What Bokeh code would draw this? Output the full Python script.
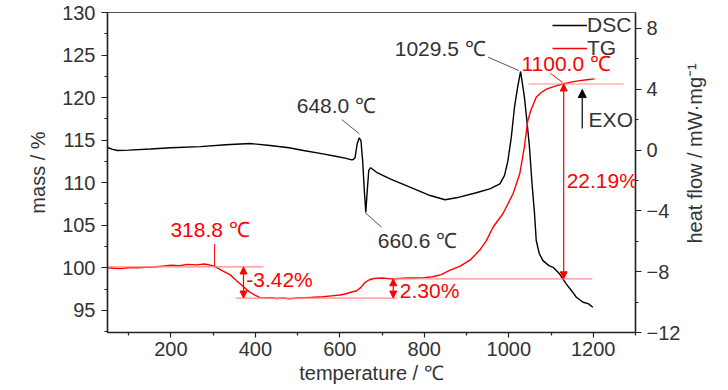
import math
from bokeh.plotting import figure
from bokeh.models import (Range1d, LinearAxis, FixedTicker, Label, Arrow, NormalHead,
                          Legend, LegendItem, ColumnDataSource)
from bokeh.embed import file_html
from bokeh.resources import INLINE

# ---------------- data ----------------
dsc_T = [50, 62, 74, 100, 152, 200, 270, 330, 388, 435, 480, 514, 560, 593, 615, 628, 632, 636,
         641, 646, 650, 654, 658, 661.5, 665, 668.5, 673, 687, 719, 766, 814, 849, 876, 923, 955,
         979, 990, 998, 1006, 1013.5, 1021, 1028, 1037, 1043, 1049, 1055, 1061, 1065, 1072, 1081,
         1095, 1105, 1120, 1136, 1150, 1160, 1176, 1188, 1199]
dsc_H = [0.17, 0.05, -0.03, 0.0, 0.07, 0.15, 0.23, 0.35, 0.43, 0.30, 0.15, -0.03, -0.25, -0.42,
         -0.55, -0.64, -0.62, -0.51, 0.41, 0.81, 0.63, -0.69, -2.66, -4.09, -2.66, -1.34, -1.16,
         -1.46, -1.89, -2.44, -2.99, -3.27, -3.14, -2.81, -2.55, -2.22, -1.67, -0.69, 0.85, 2.82,
         4.14, 5.17, 3.48, 1.9, 0.19, -2.2, -4.2, -5.95, -6.8, -7.27, -7.6, -7.71, -8.14, -8.80,
         -9.3, -9.68, -10.01, -10.1, -10.34]

tg_T = [50, 65, 80, 100, 120, 140, 160, 180, 200, 220, 240, 260, 280, 303, 320, 340, 355, 371,
        385, 400, 411, 425, 440, 450, 465, 480, 500, 520, 540, 560, 580, 600, 615, 624, 640, 650,
        660, 670, 680, 700, 720, 740, 760, 780, 800, 820, 840, 860, 885, 908, 930, 947, 963, 986,
        1010, 1026, 1037, 1045, 1053, 1065, 1077, 1089, 1110, 1128, 1150, 1168, 1185, 1203]
tg_M = [100.0, 99.95, 99.9, 100.0, 100.0, 100.05, 100.1, 100.2, 100.3, 100.25, 100.4, 100.35,
        100.45, 100.2, 99.7, 99.2, 98.5, 97.8, 97.2, 96.75, 96.5, 96.45, 96.5, 96.4, 96.45, 96.35,
        96.45, 96.5, 96.55, 96.6, 96.7, 96.8, 96.95, 97.1, 97.3, 97.7, 98.3, 98.6, 98.75, 98.8,
        98.7, 98.75, 98.8, 98.8, 98.85, 98.95, 99.2, 99.7, 100.2, 100.9, 102.0, 103.2, 104.8,
        106.35, 108.7, 111.05, 114.2, 117.3, 118.6, 120.05, 120.6, 121.0, 121.35, 121.6, 121.85,
        122.0, 122.1, 122.2]

x_ticks = [200, 400, 600, 800, 1000, 1200]
x_minor = [100, 300, 500, 700, 900, 1100, 1300]
mass_ticks = [95, 100, 105, 110, 115, 120, 125, 130]
mass_minor = [92.5, 97.5, 102.5, 107.5, 112.5, 117.5, 122.5, 127.5]
hf_ticks = [-12, -8, -4, 0, 4, 8]
hf_minor = [-10, -6, -2, 2, 6]

# mass levels used by the step annotations
mass_start = 100.1
mass_low = 96.45
mass_mid = 98.71
mass_end = 121.6

RED = "#ff0000"
PINK = "#ff8c8c"
GREY = "#333333"
SANS = "Liberation Sans"

p = figure(width=720, height=390, x_range=Range1d(50, 1300), y_range=Range1d(92.4, 130),
           output_backend="svg", toolbar_location=None,
           min_border_left=107, min_border_right=84, min_border_top=12, min_border_bottom=58)
p.extra_y_ranges = {"hf": Range1d(-12, 9.05)}
p.grid.visible = False
p.outline_line_color = "#555555"
p.outline_line_width = 1.2
p.background_fill_color = "white"
p.border_fill_color = "white"

def style_axis(ax):
    ax.axis_line_color = "#222222"
    ax.axis_line_width = 1.5
    ax.major_tick_line_color = "#222222"
    ax.minor_tick_line_color = "#222222"
    ax.major_tick_line_width = 1.2
    ax.minor_tick_line_width = 1.2
    ax.major_tick_in = 0
    ax.major_tick_out = 6
    ax.minor_tick_in = 0
    ax.minor_tick_out = 3
    ax.major_label_text_font = SANS
    ax.major_label_text_font_size = "20px"
    ax.major_label_text_color = GREY
    ax.axis_label_text_font = SANS
    ax.axis_label_text_font_size = "20px"
    ax.axis_label_text_font_style = "normal"
    ax.axis_label_text_color = GREY

xa = p.xaxis[0]
style_axis(xa)
xa.ticker = FixedTicker(ticks=x_ticks, minor_ticks=x_minor)
xa.axis_label = "temperature / ℃"
xa.major_tick_out = 5
xa.major_label_standoff = 4
xa.axis_label_standoff = 3

ya = p.yaxis[0]
style_axis(ya)
ya.ticker = FixedTicker(ticks=mass_ticks, minor_ticks=mass_minor)
ya.axis_label = "mass / %"
ya.major_label_standoff = 6
ya.axis_label_standoff = 10

ra = LinearAxis(y_range_name="hf", ticker=FixedTicker(ticks=hf_ticks, minor_ticks=hf_minor))
style_axis(ra)
ra.major_label_standoff = 5
ra.axis_label = "heat flow / mW·mg⁻¹"
ra.axis_label_standoff = 12
props = ra.properties()
if "axis_label_orientation" in props:
    ra.axis_label_orientation = math.pi / 2
if "axis_label_align" in props:
    ra.axis_label_align = "start"
    ra.axis_label = "\u00a0" * 16 + "heat flow / mW·mg⁻¹"
p.add_layout(ra, "right")

# ---------------- curves ----------------
r_dsc = p.line(dsc_T, dsc_H, y_range_name="hf", line_color="#000000", line_width=1.4)
r_tg = p.line(tg_T, tg_M, line_color=RED, line_width=1.4)

# ---------------- helper lines ----------------
helper = ColumnDataSource(dict(x0=[50, 354, 726, 1047], x1=[419, 735, 1198, 1272],
                               y=[mass_start, mass_low, mass_mid, mass_end]))
p.segment(x0="x0", y0="y", x1="x1", y1="y", source=helper, line_color=PINK, line_width=1.2)

for xa_, y0, y1 in [(372, mass_start, mass_low), (726.5, mass_low, mass_mid),
                    (1130, mass_mid, mass_end)]:
    p.add_layout(Arrow(x_start=xa_, y_start=y0, x_end=xa_, y_end=y1, line_color=RED,
                       line_width=1.2,
                       start=NormalHead(size=7, fill_color=RED, line_color=RED),
                       end=NormalHead(size=7, fill_color=RED, line_color=RED)))

# leaders
p.segment(x0=[303.5, 1099], y0=[102.8, 122.83], x1=[303.5, 1127.5], y1=[100.19, 121.78],
          line_color=RED, line_width=1)
p.segment(x0=[604.6, 659.6, 951], y0=[2.01, -4.11, 6.11], x1=[646.2, 699, 1024],
          y1=[1.07, -5.07, 5.23], y_range_name="hf", line_color="#444444", line_width=0.9)

# EXO arrow
p.add_layout(Arrow(x_start=1174, y_start=1.42, x_end=1174, y_end=3.98, y_range_name="hf",
                   line_color="#333333", line_width=1.5,
                   end=NormalHead(size=8, fill_color="#000000", line_color="#000000")))

def lab(x, y, t, color, align="left", rng="default"):
    p.add_layout(Label(x=x, y=y, text=t, text_align=align, text_baseline="middle",
                       text_font=SANS, text_font_size="21px", text_color=color,
                       y_range_name=rng))

lab(199, 104.5, "318.8 ℃", RED)
lab(378.5, 98.6, "-3.42%", RED)
lab(742, 97.34, "2.30%", RED)
lab(1137, 110.26, "22.19%", RED)
lab(1030, 124.0, "1100.0 ℃", RED)
lab(592, 2.93, "648.0 ℃", GREY, "center", "hf")
lab(690, -5.95, "660.6 ℃", GREY, "left", "hf")
lab(945.6, 6.68, "1029.5 ℃", GREY, "right", "hf")
lab(1189, 2.01, "EXO", GREY, "left", "hf")

# ---------------- legend ----------------
for item, r, yloc in [("DSC", r_dsc, 295), ("TG", r_tg, 272)]:
    leg = Legend(items=[LegendItem(label=item, renderers=[r])], location=(445, yloc),
                 glyph_width=35, glyph_height=20, label_standoff=0, padding=0, margin=0,
                 spacing=0, border_line_color=None, background_fill_alpha=0,
                 label_text_font=SANS, label_text_font_size="21px",
                 label_text_color=GREY)
    p.add_layout(leg)

open("out.html", "w").write(file_html(p, INLINE))
